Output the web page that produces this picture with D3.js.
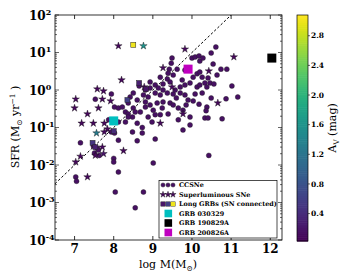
<!DOCTYPE html>
<html>
<head>
<meta charset="utf-8">
<script src="https://cdn.jsdelivr.net/npm/d3@7"></script>
<style>
body { margin: 0; background: #fff; }
text { font-family: "DejaVu Serif", serif; }
</style>
</head>
<body>
<div id="chart"></div>
<script>
// CCSNe (log M, SFR)
var ccLogM = [9.49, 9.47, 10.0, 10.08, 10.18, 10.2, 10.28, 9.42, 9.62, 9.39, 9.52, 10.13, 10.2, 10.26, 10.03,
    9.19, 9.37, 9.44, 9.06, 9.14, 8.93, 8.81, 9.95, 10.13, 10.2, 10.33, 9.7, 10.61, 10.49, 10.54,
    10.74, 10.89, 10.64, 10.41, 10.46, 10.56, 10.38, 11.02, 9.82, 9.75, 9.26,
    8.5, 8.76, 8.88, 9.06, 9.19, 9.37, 9.52, 9.7, 9.82, 10.08, 10.26, 8.6, 8.81, 9.11, 9.26, 9.44,
    9.52, 9.9, 10.03, 8.5, 8.68, 8.81, 9.01, 9.24, 9.39, 9.77, 9.95, 10.33, 8.48, 8.6, 8.73, 8.98,
    9.06, 9.95, 8.48, 8.73, 9.77, 8.6, 9.06, 10.49, 10.87, 11.17, 10.38, 10.36, 10.41, 10.77, 10.43, 9.01,
    7.53, 7.94, 8.02, 8.12, 8.22, 8.3, 8.37, 7.87, 8.12, 8.3, 8.37, 7.94, 8.02, 7.15, 8.12, 7.58,
    7.61, 7.51, 7.63, 8.0, 8.0, 7.03, 7.05, 8.12, 8.04, 8.76, 8.55, 7.48,
    8.65, 8.93, 9.26, 9.57, 9.82, 8.37, 8.55, 8.88, 9.19, 9.65, 9.6, 8.93, 8.42, 9.85, 10.18, 9.65];
var ccSFR = [7.1, 5.2, 7.1, 7.6, 8.1, 5.9, 7.1, 3.6, 3.6, 2.8, 2.5, 2.7, 3.0, 2.2, 2.2,
    2.2, 1.97, 1.63, 1.36, 1.13, 1.13, 1.0, 1.54, 1.2, 1.36, 1.54, 1.2, 14, 9.7, 4.9,
    3.6, 3.6, 2.5, 2.1, 1.54, 1.45, 1.2, 1.28, 3.4, 1.85, 1.45,
    0.83, 0.74, 0.65, 0.83, 0.74, 0.83, 0.78, 0.83, 0.74, 0.78, 0.83, 0.54, 0.48, 0.45, 0.48, 0.45,
    0.40, 0.54, 0.51, 0.33, 0.26, 0.35, 0.29, 0.33, 0.23, 0.29, 0.19, 0.18, 0.19, 0.13, 0.10, 0.14,
    0.22, 0.117, 0.076, 0.071, 0.086, 0.044, 0.049, 0.61, 0.58, 0.65, 0.35, 0.28, 0.18, 0.17, 0.018, 0.0113,
    0.57, 0.78, 0.35, 0.33, 0.35, 0.26, 0.23, 0.16, 0.14, 0.14, 0.19, 0.076, 0.071, 0.039, 0.046, 0.028,
    0.025, 0.021, 0.018, 0.015, 0.012, 0.0048, 0.0037, 0.0065, 0.0019, 0.0019, 0.00072, 0.032,
    1.28, 1.63, 1.0, 1.0, 1.36, 0.45, 0.26, 0.19, 0.22, 0.16, 0.61, 0.40, 0.65, 0.40, 0.42, 0.33];
var ccAV = 0.15;

// Superluminous SNe
var slLogM = [8.12, 8.76, 9.82, 9.26, 8.2, 7.58, 7.74, 7.03, 7.71, 7.92, 7.0, 7.61, 7.33, 7.18, 7.48,
    7.76, 7.84, 7.76, 7.56, 8.25, 7.15, 7.53, 7.74, 7.71, 7.03, 7.33, 11.07, 10.43, 10.66, 9.77,
    9.19, 9.49, 8.78];
var slSFR = [15, 15, 12.3, 3.9, 1.85, 1.06, 0.94, 0.57, 0.57, 0.51, 0.33, 0.33, 0.23, 0.13, 0.13,
    0.13, 0.091, 0.076, 0.071, 0.024, 0.017, 0.018, 0.02, 0.030, 0.012, 0.0048, 7.6, 3.2, 0.45, 0.23,
    0.13, 1.2, 1.2];
var slAV = [0.1, 1.6, 0.1, 0.1, 0.1, 0.1, 0.1, 0.1, 0.1, 0.1, 0.1, 0.1, 0.1, 0.1, 0.1,
    0.1, 0.1, 0.1, 1.3, 0.1, 0.1, 0.1, 0.2, 0.1, 0.1, 0.1, 0.1, 0.1, 0.1, 0.1,
    0.1, 0.1, 0.1];

// Long GRBs (SN connected)
var grbLogM = [8.5, 8.65, 7.46, 7.53, 8.35, 8.83, 8.0];
var grbSFR = [16, 1.54, 0.039, 0.030, 0.54, 1.06, 0.08];
var grbAV = [3.0, 0.3, 0.5, 0.3, 0.6, 0.2, 0.4];

// individual GRBs
var special = ["GRB 030329", "GRB 190829A", "GRB 200826A"];
var specialLogM = [8.0, 12.04, 9.9];
var specialSFR = [0.15, 7.1, 3.6];
var specialColor = ["#00bfbf", "#000000", "#bf00bf"];

var xTicks = [7, 8, 9, 10, 11, 12];
var yTicks = [1e-4, 1e-3, 1e-2, 1e-1, 1e0, 1e1, 1e2];
var yExp = ["-4", "-3", "-2", "-1", "0", "1", "2"];
var cTicks = [0.4, 0.8, 1.2, 1.6, 2.0, 2.4, 2.8];

var W = 350, H = 280;
var L = 55, R = 282, T = 15, B = 240;

var svg = d3.select("#chart").append("svg").attr("width", W).attr("height", H);

var x = d3.scaleLinear().domain([6.5, 12.3]).range([L, R]);
var y = d3.scaleLog().domain([1e-4, 1e2]).range([B, T]);
var cDomain = [0.03, 3.08];
var color = d3.scaleSequential(d3.interpolateViridis).domain(cDomain);

svg.append("clipPath").attr("id", "clip").append("rect")
    .attr("x", L).attr("y", T).attr("width", R - L).attr("height", B - T);

var plot = svg.append("g").attr("clip-path", "url(#clip)");

// sSFR = 1e-9 line
var lineM = [6.5, 11.5];
plot.append("line")
    .attr("x1", x(lineM[0])).attr("y1", y(Math.pow(10, lineM[0] - 9)))
    .attr("x2", x(lineM[1])).attr("y2", y(Math.pow(10, lineM[1] - 9)))
    .attr("stroke", "#000").attr("stroke-width", 1).attr("stroke-dasharray", "2.5,2");

var star = d3.symbol().type(d3.symbolStar).size(17);

plot.selectAll(".cc").data(ccLogM).enter().append("circle")
    .attr("cx", function(d) { return x(d); })
    .attr("cy", function(d, i) { return y(ccSFR[i]); })
    .attr("r", 2.5)
    .attr("fill", color(ccAV)).attr("stroke", "#222").attr("stroke-width", 0.4);

plot.selectAll(".sl").data(slLogM).enter().append("path")
    .attr("d", star)
    .attr("transform", function(d, i) { return "translate(" + x(d) + "," + y(slSFR[i]) + ")"; })
    .attr("fill", function(d, i) { return color(slAV[i]); })
    .attr("stroke", "#111").attr("stroke-width", 0.4);

plot.selectAll(".grb").data(grbLogM).enter().append("rect")
    .attr("x", function(d) { return x(d) - 2.5; })
    .attr("y", function(d, i) { return y(grbSFR[i]) - 2.5; })
    .attr("width", 5).attr("height", 5)
    .attr("fill", function(d, i) { return color(grbAV[i]); })
    .attr("stroke", "#222").attr("stroke-width", 0.5);

plot.selectAll(".sp").data(specialLogM).enter().append("rect")
    .attr("x", function(d) { return x(d) - 4.5; })
    .attr("y", function(d, i) { return y(specialSFR[i]) - 4.5; })
    .attr("width", 9).attr("height", 9)
    .attr("fill", function(d, i) { return specialColor[i]; });

// frame and ticks
var axes = svg.append("g").attr("stroke", "#000").attr("stroke-width", 0.8);
axes.append("rect").attr("x", L).attr("y", T).attr("width", R - L).attr("height", B - T).attr("fill", "none");

xTicks.forEach(function(t) {
    axes.append("line").attr("x1", x(t)).attr("x2", x(t)).attr("y1", B).attr("y2", B - 4);
    axes.append("line").attr("x1", x(t)).attr("x2", x(t)).attr("y1", T).attr("y2", T + 4);
});
y.ticks().forEach(function(t) {
    var major = yTicks.indexOf(t) >= 0;
    var len = major ? 4 : 2;
    axes.append("line").attr("x1", L).attr("x2", L + len).attr("y1", y(t)).attr("y2", y(t)).attr("stroke-width", 0.6);
    axes.append("line").attr("x1", R).attr("x2", R - len).attr("y1", y(t)).attr("y2", y(t)).attr("stroke-width", 0.6);
});

svg.selectAll(".xt").data(xTicks).enter().append("text")
    .attr("x", function(d) { return x(d); }).attr("y", 253)
    .attr("text-anchor", "middle").attr("font-size", 12).attr("font-weight", "bold")
    .text(function(d) { return d; });

var yl = svg.selectAll(".yt").data(yTicks).enter().append("text")
    .attr("x", 29).attr("y", function(d) { return y(d) + 4.5; })
    .attr("font-size", 12).attr("font-weight", "bold");
yl.append("tspan").text("10");
yl.append("tspan").attr("dy", -5).attr("font-size", 8).text(function(d, i) { return yExp[i]; });

svg.append("text").attr("x", 168).attr("y", 268).attr("text-anchor", "middle").attr("font-size", 11)
    .html('log M(M<tspan font-size="7.5" dy="2.5">⊙</tspan><tspan dy="-2.5">)</tspan>');

svg.append("text").attr("transform", "translate(19,127) rotate(-90)").attr("text-anchor", "middle").attr("font-size", 11)
    .html('SFR (M<tspan font-size="7.5" dy="2.5">⊙</tspan><tspan dy="-2.5"> yr</tspan><tspan font-size="7.5" dy="-4">−1</tspan><tspan dy="4"> )</tspan>');

// legend
var lg = svg.append("g");
lg.append("rect").attr("x", 159).attr("y", 180.5).attr("width", 118).attr("height", 57.5)
    .attr("fill", "#fff").attr("stroke", "#000").attr("stroke-width", 0.7);
var rows = ["CCSNe", "Superluminous SNe", "Long GRBs (SN connected)"].concat(special);
var rowY = [185, 194.5, 204, 213.5, 223, 232.5];
lg.selectAll(".lt").data(rows).enter().append("text")
    .attr("x", 179).attr("y", function(d, i) { return rowY[i] + 2.3; })
    .attr("font-size", 6.4).attr("font-weight", "bold").text(function(d) { return d; });
var legX = [163, 168, 173];
legX.forEach(function(lx, j) {
    lg.append("circle").attr("cx", lx).attr("cy", rowY[0]).attr("r", 2.1)
        .attr("fill", color(ccAV)).attr("stroke", "#222").attr("stroke-width", 0.4);
    lg.append("path").attr("d", d3.symbol().type(d3.symbolStar).size(12))
        .attr("transform", "translate(" + lx + "," + rowY[1] + ")")
        .attr("fill", color(slAV[0])).attr("stroke", "#111").attr("stroke-width", 0.4);
    lg.append("rect").attr("x", lx - 2.2).attr("y", rowY[2] - 2.2).attr("width", 4.4).attr("height", 4.4)
        .attr("fill", color([0.2, 0.6, 3.0][j])).attr("stroke", "#222").attr("stroke-width", 0.4);
});
specialColor.forEach(function(c, i) {
    lg.append("rect").attr("x", 164.5).attr("y", rowY[i + 3] - 3.8).attr("width", 7.6).attr("height", 7.6).attr("fill", c);
});

// colorbar
var cbX = 297, cbW = 11;
var cy = d3.scaleLinear().domain(cDomain).range([B + 1, T]);
var steps = d3.range(0, 120);
svg.selectAll(".cb").data(steps).enter().append("rect")
    .attr("x", cbX).attr("width", cbW)
    .attr("y", function(d) { return cy(cDomain[0] + (d + 1) * (cDomain[1] - cDomain[0]) / 120); })
    .attr("height", (B + 1 - T) / 120 + 0.6)
    .attr("fill", function(d) { return color(cDomain[0] + (d + 0.5) * (cDomain[1] - cDomain[0]) / 120); });
svg.append("rect").attr("x", cbX).attr("y", T).attr("width", cbW).attr("height", B + 1 - T)
    .attr("fill", "none").attr("stroke", "#000").attr("stroke-width", 0.7);
cTicks.forEach(function(t) {
    svg.append("line").attr("x1", cbX + cbW).attr("x2", cbX + cbW + 2).attr("y1", cy(t)).attr("y2", cy(t))
        .attr("stroke", "#000").attr("stroke-width", 0.6);
    svg.append("text").attr("x", cbX + cbW + 3).attr("y", cy(t) + 2.7)
        .attr("font-size", 7.5).attr("font-weight", "bold").text(t.toFixed(1));
});
svg.append("text").attr("transform", "translate(336,128) rotate(-90)").attr("text-anchor", "middle").attr("font-size", 11)
    .html('A<tspan font-size="7.5" dy="2.5">V</tspan><tspan dy="-2.5"> (mag)</tspan>');
</script>
</body>
</html>
